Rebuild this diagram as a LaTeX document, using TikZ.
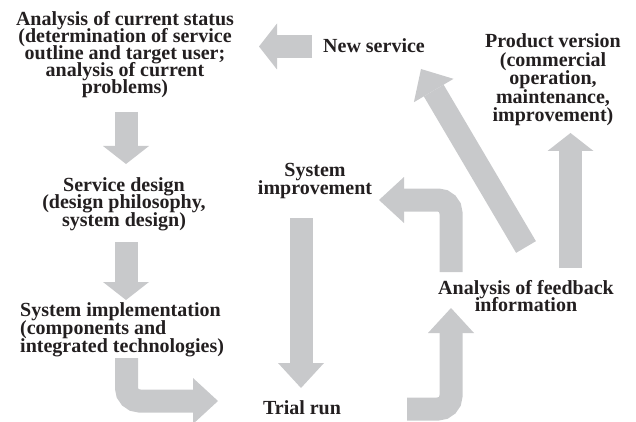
\documentclass[tikz,border=0pt]{standalone}
\usepackage{fontspec}
\setmainfont{Liberation Serif}
\usetikzlibrary{arrows.meta}
\definecolor{flowgray}{RGB}{200,201,203}
\definecolor{inkdark}{RGB}{35,31,32}
% keep the stated baseline distance even for tall lines
\newcommand{\tightlines}{\lineskiplimit=-10pt\relax\lineskip=0pt\relax}
\begin{document}
\begin{tikzpicture}[x=1pt,y=-1pt,
  caption/.style={font=\bfseries\fontsize{20}{#1}\selectfont\tightlines, text=inkdark, align=center, inner sep=0pt},
  caption/.default=18,
  flow/.style={draw=flowgray, line width=23pt, rounded corners=13pt},
  shorthead/.style={flow, -{Triangle[width=46pt,length=18pt,line width=0pt]}},
  longhead/.style={flow, -{Triangle[width=46pt,length=25pt,line width=0pt]}},
]
\useasboundingbox (0,0) rectangle (636,422);

% stage captions
\node[caption=17] (status) at (125,54.5) {Analysis of current status\\(determination of service\\outline and target user;\\analysis of current\\problems)};
\node[caption=17.5] (design) at (124,204) {Service design\\(design philosophy,\\system design)};
\node[caption=18, align=left, anchor=west] (impl) at (20,330) {System implementation\\(components and\\integrated technologies)};
\node[caption=18] (improve) at (315,181) {System\\improvement};
\node[caption] (trial) at (302,408) {Trial run};
\node[caption=17.5] (feedback) at (526,296) {Analysis of feedback\\information};
\node[caption] (newsvc) at (374,46) {New service};
\node[caption=18.5] (product) at (553,80) {Product version\\(commercial\\operation,\\maintenance,\\improvement)};

% arrow end points
\coordinate (s1a) at (126,112);   \coordinate (s1b) at (126,164);
\coordinate (s2a) at (126,242);   \coordinate (s2b) at (126,300);
\coordinate (s3a) at (126.5,358); \coordinate (s3k) at (126.5,401); \coordinate (s3b) at (218,401);
\coordinate (m1a) at (301,218);   \coordinate (m1b) at (301,388);
\coordinate (r1a) at (407,409);   \coordinate (r1k) at (451,409);   \coordinate (r1b) at (451,308);
\coordinate (r2a) at (451,272);   \coordinate (r2k) at (451,200);   \coordinate (r2b) at (379,200);
\coordinate (d1a) at (526,247);   \coordinate (d1b) at (421,69);
\coordinate (u1a) at (570.5,268); \coordinate (u1b) at (570.5,133);
\coordinate (n1a) at (312,46.5);  \coordinate (n1b) at (259,46.5);

% block arrows
\draw[shorthead] (s1a) -- (s1b);
\draw[shorthead] (s2a) -- (s2b);
\draw[longhead] (s3a) -- (s3k) -- (s3b);
\draw[longhead] (m1a) -- (m1b);
\draw[longhead] (r1a) -- (r1k) -- (r1b);
\draw[longhead] (r2a) -- (r2k) -- (r2b);
\draw[longhead] (d1a) -- (d1b);
\draw[shorthead] (u1a) -- (u1b);
\draw[shorthead] (n1a) -- (n1b);
\end{tikzpicture}
\end{document}
